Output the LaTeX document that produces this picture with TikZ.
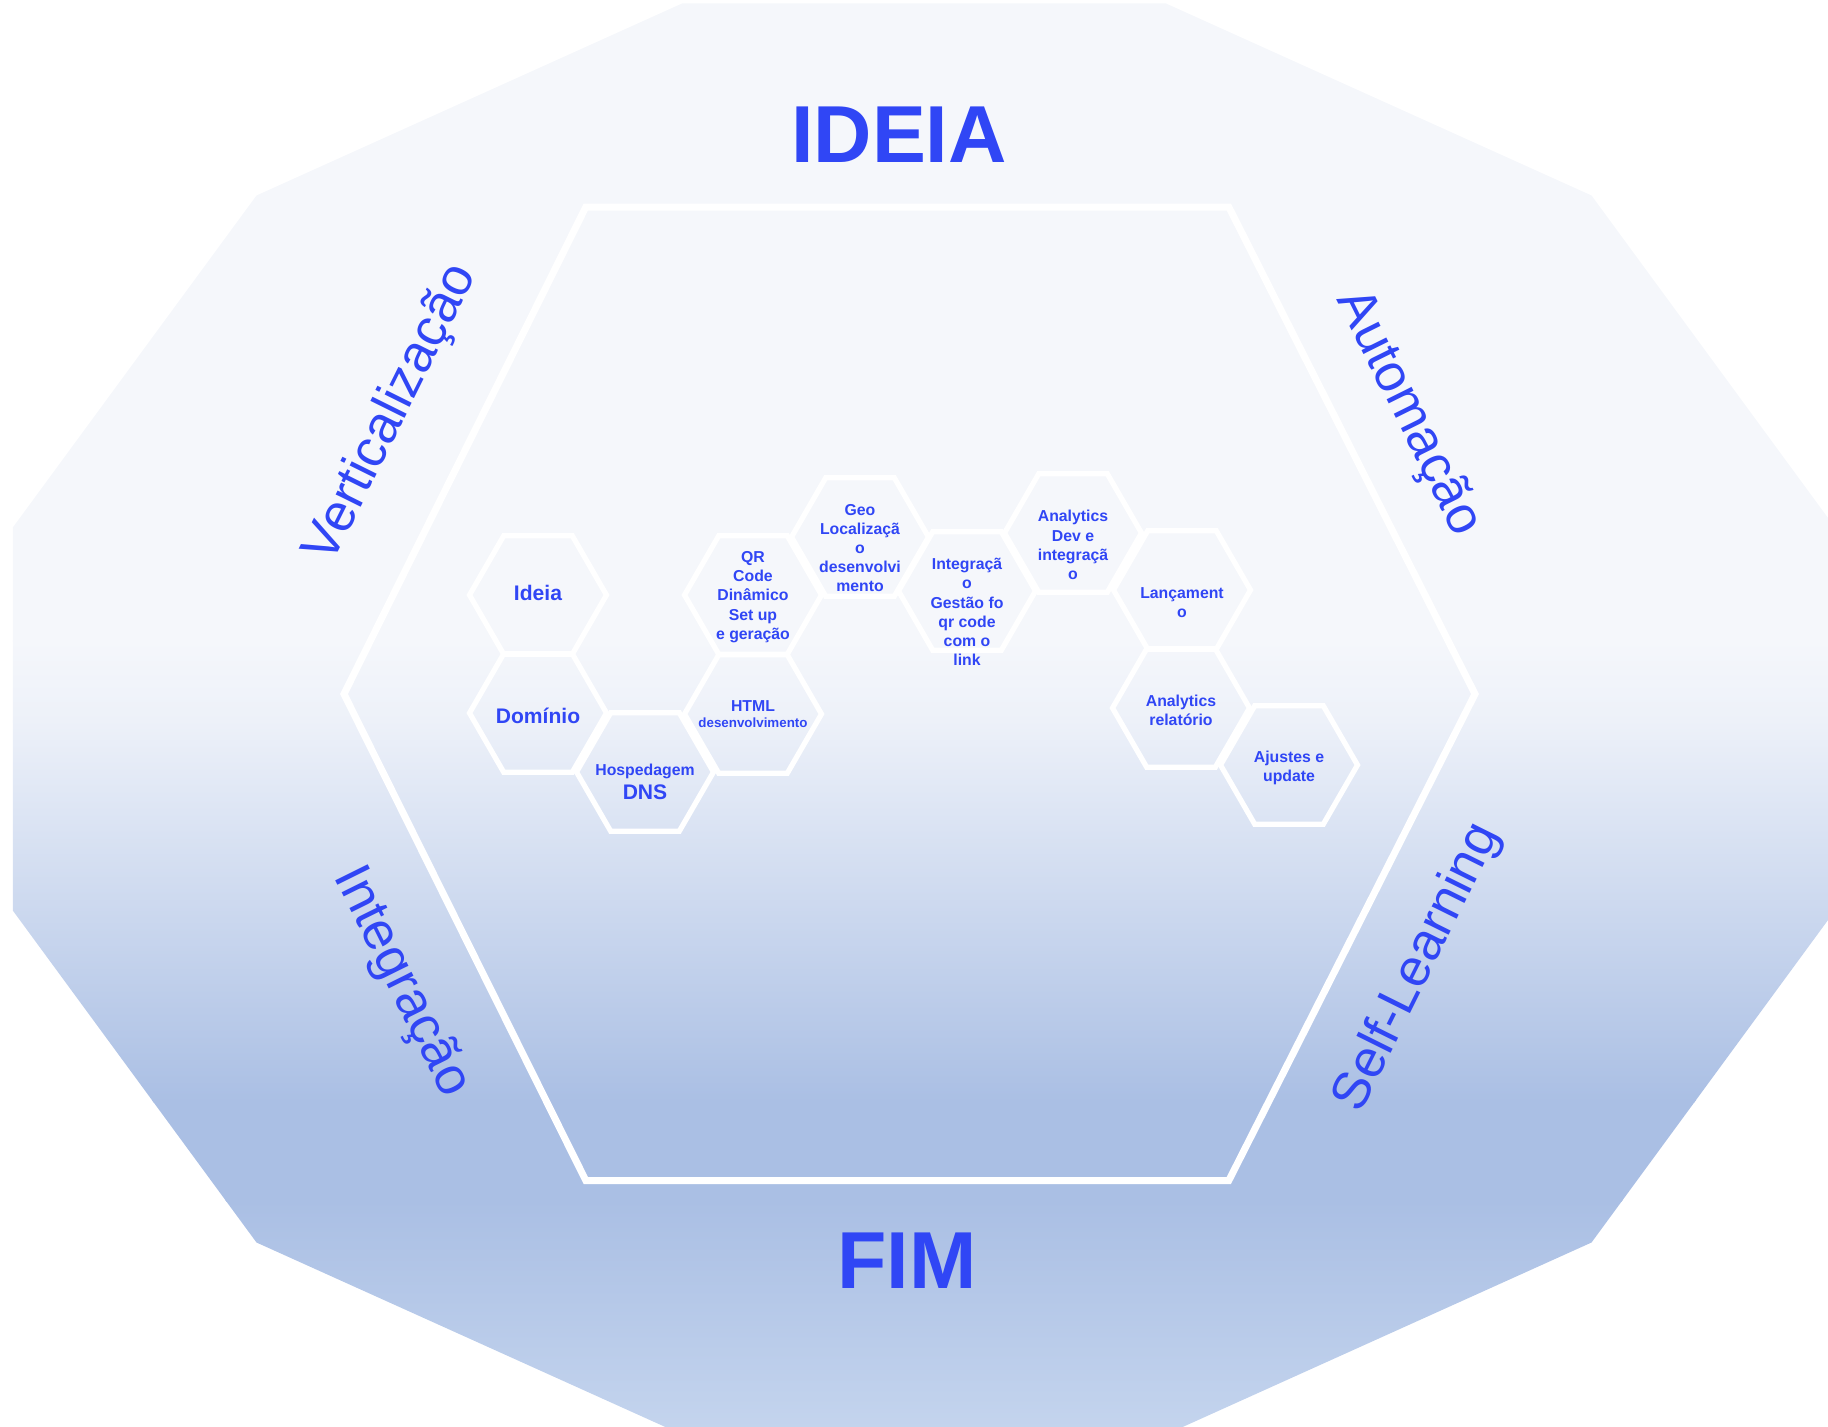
\documentclass[tikz,border=0pt]{standalone}
\usepackage{fontspec}
\setmainfont{Liberation Sans}
\usetikzlibrary{shapes.geometric}
\definecolor{txtblue}{RGB}{48,70,245}
\definecolor{bgA}{HTML}{F5F7FB}
\definecolor{bgB}{HTML}{EDF1F9}
\definecolor{bgC}{HTML}{AABFE4}
\definecolor{bgD}{HTML}{C5D5EE}
\begin{document}
\begin{tikzpicture}[x=0.02cm,y=-0.02cm,
  cell/.style={regular polygon, regular polygon sides=6, minimum size=2.74cm,
    inner sep=0pt, draw=white, line width=0.105cm},
  celltxt/.style={text=txtblue, align=center, inner sep=0pt,
    font=\bfseries\fontsize{9}{10.9}\selectfont},
  celltxtbig/.style={text=txtblue, align=center, inner sep=0pt,
    font=\bfseries\fontsize{12}{14}\selectfont},
  titletxt/.style={text=txtblue, inner sep=0pt,
    font=\bfseries\fontsize{46}{50}\selectfont},
  sidetxt/.style={text=txtblue, inner sep=0pt,
    font=\fontsize{30}{34}\selectfont}]
\useasboundingbox (0,0) rectangle (1828,1426);
\clip (0,0) rectangle (1828,1426);
% outer dodecagon with vertical gradient
\begin{scope}
  \clip (682,3.5) -- (1166,3.5) -- (1591.5,195.5) -- (1835,527.5) -- (1835,910.5)
    -- (1591.5,1242.5) -- (1166,1434.5) -- (682,1434.5) -- (256.5,1242.5)
    -- (12.8,910.5) -- (12.8,527.5) -- (256.5,195.5) -- cycle;
  \fill[bgA] (0,0) rectangle (1828,642);
  \shade[top color=bgA,bottom color=bgB] (0,640) rectangle (1828,722);
  \shade[top color=bgB,bottom color=bgC] (0,720) rectangle (1828,1102);
  \fill[bgC] (0,1100) rectangle (1828,1202);
  \shade[top color=bgC,bottom color=bgD] (0,1200) rectangle (1828,1440);
\end{scope}
% big inner hexagon
\draw[white, line width=0.14cm] (585.8,207) -- (1228.8,207) -- (1475,694)
  -- (1228.8,1180.5) -- (585.8,1180.5) -- (344,694) -- cycle;
% small hexagons
\node[cell] (hIdeia) at (538,595) {};
\node[cell] (hDominio) at (538,713) {};
\node[cell] (hHosp) at (645,772) {};
\node[cell] (hHtml) at (753,714) {};
\node[cell] (hQr) at (753,595) {};
\node[cell] (hGeo) at (860,537) {};
\node[cell] (hInteg) at (967,591) {};
\node[cell] (hAnDev) at (1073,533) {};
\node[cell] (hLanc) at (1182,590) {};
\node[cell] (hAnRel) at (1181,708) {};
\node[cell] (hAjust) at (1289,765) {};
% texts in hexagons
\node[celltxtbig] (tIdeia) at (538,593) {Ideia};
\node[celltxtbig] (tDominio) at (538,716) {Domínio};
\node[celltxt, font=\bfseries\fontsize{9}{13.5}\selectfont] (tHosp) at (645,782) {Hospedagem\\{\fontsize{12}{14}\selectfont DNS}};
\node[celltxt, font=\bfseries\fontsize{9}{9.2}\selectfont] (tHtml) at (753,714) {HTML\\{\fontsize{7.6}{9}\selectfont desenvolvimento}};
\node[celltxt] (tQr) at (753,597) {QR\\Code\\Dinâmico\\Set up\\e geração};
\node[celltxt] (tGeo) at (860,548) {Geo\\Localizaçã\\o\\desenvolvi\\mento};
\node[celltxt] (tInteg) at (967,612) {Integraçã\\o\\Gestão fo\\qr code\\com o\\link};
\node[celltxt] (tAnDev) at (1073,545) {Analytics\\Dev e\\integraçã\\o};
\node[celltxt] (tLanc) at (1182,603) {Lançament\\o};
\node[celltxt] (tAnRel) at (1181,710) {Analytics\\relatório};
\node[celltxt] (tAjust) at (1289,768) {Ajustes e\\update};
% titles
\node[titletxt] (ideia) at (899,134.5) {IDEIA};
\node[titletxt] (fim) at (907,1261) {FIM};
% side labels
\node[sidetxt, rotate=63.6] (vert) at (392,414) {Verticalização};
\node[sidetxt, rotate=-63.6] (auto) at (1408,413) {Automação};
\node[sidetxt, rotate=-63.6] (integ) at (401,982) {Integração};
\node[sidetxt, rotate=63.6] (self) at (1418,968) {Self-Learning};
\end{tikzpicture}
\end{document}
